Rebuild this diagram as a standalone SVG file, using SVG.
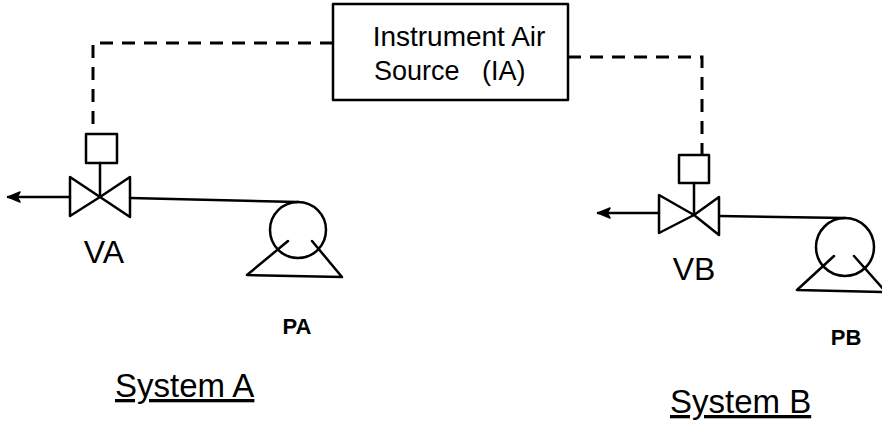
<svg xmlns="http://www.w3.org/2000/svg" width="882" height="422" viewBox="0 0 882 422">
<style>
.ln{fill:none;stroke:#000;stroke-width:2.5;stroke-linejoin:round;stroke-linecap:round}
.dash{fill:none;stroke:#000;stroke-width:3;stroke-dasharray:13 9}
.t{font-family:"Liberation Sans",Arial,sans-serif;fill:#000}
.sm{font-weight:bold}
</style>
<defs>
<marker id="arr" viewBox="0 0 14 12" refX="13" refY="6" markerWidth="14" markerHeight="12" markerUnits="userSpaceOnUse" orient="auto">
<path d="M1,1 L13,6 L1,11 L4,6 Z" fill="#000" stroke="#000" stroke-width="1.5" stroke-linejoin="round"/>
</marker>
</defs>
<rect width="882" height="422" fill="#fff"/>
<g id="connectors">
<path class="dash" d="M333,43 H93 V134"/>
<path class="dash" d="M568,57 H702 V155"/>
<path class="ln" d="M70,197 H8" marker-end="url(#arr)"/>
<path class="ln" d="M659,213 H598" marker-end="url(#arr)"/>
<path class="ln" d="M130,198 L298,202"/>
<path class="ln" d="M719,216 L845,218"/>
</g>
<g id="ia">
<rect x="333" y="4" width="235" height="96" class="ln"/>
<text class="t" x="459" y="46" font-size="28" text-anchor="middle">Instrument Air</text>
<text class="t" x="374" y="80" font-size="27" xml:space="preserve">Source   (IA)</text>
</g>
<g id="va">
<rect x="86" y="134" width="31" height="29" class="ln"/>
<path class="ln" d="M100,163 V197"/>
<path class="ln" d="M70,177 L70,216 L100,197 Z M130,177 L130,217 L100,197 Z"/>
<text class="t" x="104" y="263" font-size="32" text-anchor="middle">VA</text>
</g>
<g id="pa">
<circle cx="298" cy="230" r="28" class="ln"/>
<path class="ln" d="M288,241 L247,275 L342,277 L312,241"/>
<text class="t sm" x="297" y="334" font-size="22" text-anchor="middle">PA</text>
</g>
<g id="sysA">
<text class="t" x="115" y="397" font-size="33" text-decoration="underline">System A</text>
</g>
<g id="vb">
<rect x="679" y="155" width="30" height="28" class="ln"/>
<path class="ln" d="M694,183 V215"/>
<path class="ln" d="M659,195 L659,233 L694,215 Z M719,197 L719,235 L694,215 Z"/>
<text class="t" x="694" y="280" font-size="32" text-anchor="middle">VB</text>
</g>
<g id="pb">
<circle cx="845" cy="247" r="29" class="ln"/>
<path class="ln" d="M834,256 L797,290 L884,292 M854,256 L884,290"/>
<text class="t sm" x="846" y="345" font-size="22" text-anchor="middle">PB</text>
</g>
<g id="sysB">
<text class="t" x="670" y="413" font-size="33" text-decoration="underline">System B</text>
</g>
</svg>
